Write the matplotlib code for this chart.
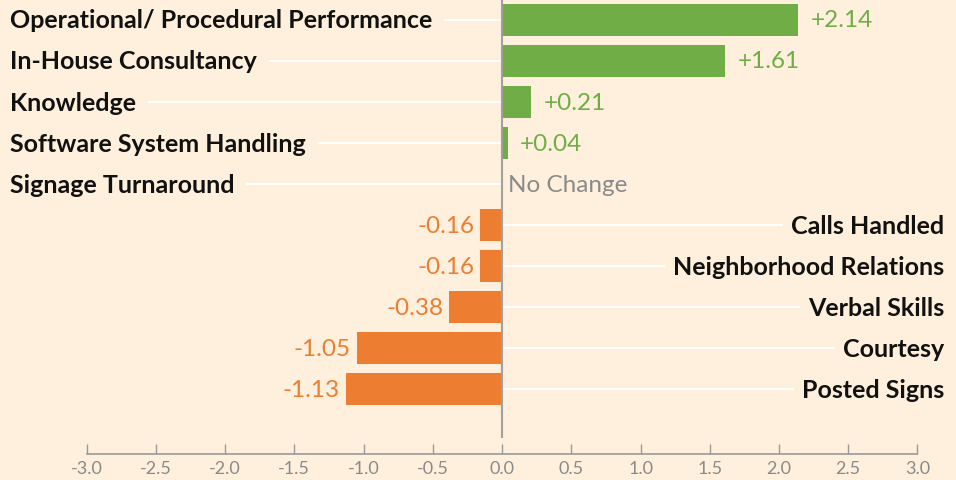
import matplotlib
matplotlib.use("Agg")
import matplotlib.pyplot as plt
import numpy as np

# data, top row first
categories = ["Operational/ Procedural Performance", "In-House Consultancy", "Knowledge",
              "Software System Handling", "Signage Turnaround", "Calls Handled",
              "Neighborhood Relations", "Verbal Skills", "Courtesy", "Posted Signs"]
changes = [2.14, 1.61, 0.21, 0.04, 0.0, -0.16, -0.16, -0.38, -1.05, -1.13]
value_labels = ["+2.14", "+1.61", "+0.21", "+0.04", "No Change",
                "-0.16", "-0.16", "-0.38", "-1.05", "-1.13"]
tick_values = [-3.0, -2.5, -2.0, -1.5, -1.0, -0.5, 0.0, 0.5, 1.0, 1.5, 2.0, 2.5, 3.0]

BG = "#FEF0DC"
GREEN = "#70AD47"
ORANGE = "#ED7D31"
GRAY = "#8A8A8A"
FONT = "Lato"

plt.rcParams['font.family'] = [FONT, 'DejaVu Sans']

fig = plt.figure(figsize=(9.56, 4.81), dpi=100, facecolor=BG)
ax = fig.add_axes([0, 0.054, 1, 0.946])
ax.set_facecolor(BG)

y = np.arange(len(categories))
colors = [GREEN if v > 0 else ORANGE for v in changes]
ax.barh(y, changes, height=0.78, color=colors, zorder=3)

ax.set_xlim(-3.625, 3.278)
ax.set_ylim(10.585, -0.512)

# zero line
ax.vlines(0, -0.512, 10.2, color="#A0A0A0", lw=1.5, zorder=4)

# value labels
for yi, v, lab in zip(y, changes, value_labels):
    if v > 0:
        ax.annotate(lab, (v, yi), xytext=(9, 0), textcoords="offset points",
                    ha="left", va="center", fontsize=17.5, color=GREEN)
    elif v < 0:
        ax.annotate(lab, (v, yi), xytext=(-4, 0), textcoords="offset points",
                    ha="right", va="center", fontsize=17.5, color=ORANGE)
    else:
        ax.annotate(lab, (0, yi), xytext=(4, 0), textcoords="offset points",
                    ha="left", va="center", fontsize=17.5, color=GRAY)

# category labels
to_data = ax.transData.inverted()
left_x = to_data.transform((10, 0))[0]
right_x = to_data.transform((944, 0))[0]
texts = []
for yi, v, cat in zip(y, changes, categories):
    if v >= 0:
        t = ax.text(left_x, yi, cat, ha="left", va="center", fontsize=18,
                    fontweight="bold", color="#111111")
    else:
        t = ax.text(right_x, yi, cat, ha="right", va="center", fontsize=18,
                    fontweight="bold", color="#111111")
    texts.append(t)

# connector lines from label to the zero line
fig.canvas.draw()
renderer = fig.canvas.get_renderer()
for yi, v, t in zip(y, changes, texts):
    bb = t.get_window_extent(renderer)
    if v >= 0:
        x0 = to_data.transform((bb.x1 + 12, 0))[0]
        ax.hlines(yi, x0, 0, color="white", lw=1.5, zorder=2)
    else:
        x1 = to_data.transform((bb.x0 - 8, 0))[0]
        ax.hlines(yi, 0, x1, color="white", lw=1.5, zorder=2)

# bottom axis
for s in ["top", "left", "right"]:
    ax.spines[s].set_visible(False)
ax.spines["bottom"].set_bounds(-3, 3)
ax.spines["bottom"].set_color("#9A9A9A")
ax.spines["bottom"].set_linewidth(1.2)
ax.set_yticks([])
ax.set_xticks(tick_values)
ax.set_xticklabels([f"{t:.1f}" for t in tick_values])
ax.tick_params(axis="x", direction="in", length=7.5, width=1.0, color="#9A9A9A",
               labelcolor=GRAY, labelsize=13, pad=4)

fig.savefig("out.png", dpi=100, facecolor=BG)
